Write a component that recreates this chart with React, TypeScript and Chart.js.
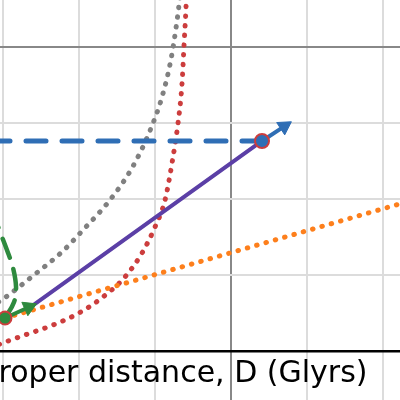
import React, { useEffect, useRef } from "react";
import { Chart, registerables } from "chart.js";

Chart.register(...registerables);

// ---- axes / grid ----
const GRID_X = [-3, -2, -1, 0, 1, 2];
const GRID_Y = [0, 1, 2, 3, 4];
const X_MIN = -3.04;
const X_MAX = 2.224;
const Y_MIN = -0.645;
const Y_MAX = 4.618;
const X_LABEL = "Proper distance, D (Glyrs)";

// ---- series ----
const grayX = [-3.171, -3.0, -2.592, -2.211, -1.947, -1.592, -1.303, -1.079, -0.908, -0.789, -0.711, -0.645];
const grayY = [0.579, 0.684, 1.0, 1.316, 1.592, 1.987, 2.408, 2.868, 3.342, 3.842, 4.342, 4.882];

const redX = [-3.171, -3.039, -2.711, -2.342, -2.0, -1.684, -1.395, -1.171, -1.0, -0.868, -0.776, -0.697, -0.645, -0.618, -0.592, -0.579];
const redY = [0.039, 0.092, 0.211, 0.342, 0.5, 0.711, 0.974, 1.289, 1.632, 1.987, 2.474, 3.0, 3.513, 4.026, 4.526, 4.882];

const greenX = [-2.974, -2.855, -2.829, -2.868, -2.934, -3.039, -3.118];
const greenY = [0.434, 0.645, 0.842, 1.092, 1.289, 1.566, 1.776];

const orangeX = [-2.974, 2.3];
const orangeY = [0.434, 1.958];

const purpleX = [-2.671, 0.408];
const purpleY = [0.553, 2.763];

const blueDashX = [0.408, -3.5];
const blueDashY = [2.763, 2.763];

const blueArrowX = [0.408, 0.701];
const blueArrowY = [2.763, 2.955];

const greenArrowX = [-2.974, -2.662];
const greenArrowY = [0.434, 0.575];

const nowPoint = [-2.974, 0.434];
const endPoint = [0.408, 2.763];

const zip = (xs: number[], ys: number[]) => xs.map((x, i) => ({ x, y: ys[i] }));

const BLUE = "#2f6eb5";
const RED = "#cc3d3d";
const GREEN = "#2e8a3e";
const PURPLE = "#5b3fa6";
const ORANGE = "#fd7f1c";
const GRAY = "#808080";

const labelPlugin = {
  id: "xlabelText",
  afterDraw(chart: any) {
    const ctx = chart.ctx;
    ctx.save();
    ctx.font = '30px "DejaVu Sans"';
    ctx.fillStyle = "#000";
    ctx.textAlign = "left";
    ctx.textBaseline = "alphabetic";
    ctx.fillText(X_LABEL, -19, 382);
    ctx.restore();
  },
};

export default function App() {
  const ref = useRef<HTMLCanvasElement>(null);

  useEffect(() => {
    if (!ref.current) return;
    const line = (data: any, color: string, width: number, dash: number[], extra: any = {}) => ({
      data,
      showLine: true,
      borderColor: color,
      backgroundColor: color,
      borderWidth: width,
      borderDash: dash,
      borderCapStyle: "round",
      pointRadius: 0,
      fill: false,
      ...extra,
    });
    const chart = new Chart(ref.current, {
      type: "scatter",
      data: {
        datasets: [
          // top-most first
          {
            data: [{ x: nowPoint[0], y: nowPoint[1] }],
            pointRadius: 6.5,
            pointBackgroundColor: GREEN,
            pointBorderColor: RED,
            pointBorderWidth: 2,
            showLine: false,
          },
          {
            data: [{ x: endPoint[0], y: endPoint[1] }],
            pointRadius: 7,
            pointBackgroundColor: BLUE,
            pointBorderColor: RED,
            pointBorderWidth: 2,
            showLine: false,
          },
          line(zip(blueArrowX, blueArrowY), BLUE, 4, [], {
            pointRadius: [0, 8.5],
            pointStyle: "triangle",
            rotation: 57,
            pointBackgroundColor: BLUE,
            pointBorderColor: BLUE,
            pointBorderWidth: 1,
          }),
          line(zip(greenArrowX, greenArrowY), GREEN, 4, [], {
            pointRadius: [0, 8.5],
            pointStyle: "triangle",
            rotation: 66,
            pointBackgroundColor: GREEN,
            pointBorderColor: GREEN,
            pointBorderWidth: 1,
          }),
          line(zip(purpleX, purpleY), PURPLE, 4, []),
          line(zip(greenX, greenY), GREEN, 4.5, [20, 12], { tension: 0.4 }),
          line(zip(blueDashX, blueDashY), BLUE, 5, [20, 16]),
          line(zip(orangeX, orangeY), ORANGE, 5, [0.5, 9.2]),
          line(zip(grayX, grayY), GRAY, 5, [0.5, 9.2], { cubicInterpolationMode: "monotone" }),
          line(zip(redX, redY), RED, 5, [0.5, 9.2], { cubicInterpolationMode: "monotone" }),
        ] as any,
      },
      options: {
        animation: false,
        responsive: false,
        events: [],
        layout: { padding: 0, autoPadding: false },
        plugins: { legend: { display: false }, tooltip: { enabled: false } },
        scales: {
          x: {
            type: "linear",
            min: X_MIN,
            max: X_MAX,
            afterBuildTicks: (s: any) => {
              s.ticks = GRID_X.map((v) => ({ value: v }));
            },
            ticks: { display: false },
            border: { display: false },
            grid: {
              drawTicks: false,
              lineWidth: 2,
              color: (c: any) => (c.tick && c.tick.value === 0 ? "#888888" : "#dcdcdc"),
            },
          },
          y: {
            type: "linear",
            min: Y_MIN,
            max: Y_MAX,
            afterBuildTicks: (s: any) => {
              s.ticks = GRID_Y.map((v) => ({ value: v }));
            },
            ticks: { display: false },
            border: { display: false },
            grid: {
              drawTicks: false,
              lineWidth: (c: any) => (c.tick && c.tick.value === 0 ? 2.5 : 2),
              color: (c: any) =>
                c.tick && c.tick.value === 0 ? "#000000" : c.tick && c.tick.value === 4 ? "#888888" : "#dcdcdc",
            },
          },
        },
      } as any,
      plugins: [labelPlugin],
    });
    return () => chart.destroy();
  }, []);

  return (
    <div style={{ position: "fixed", left: 0, top: 0, width: 400, height: 400, background: "#fff" }}>
      <canvas ref={ref} width={400} height={400} style={{ display: "block" }} />
    </div>
  );
}
